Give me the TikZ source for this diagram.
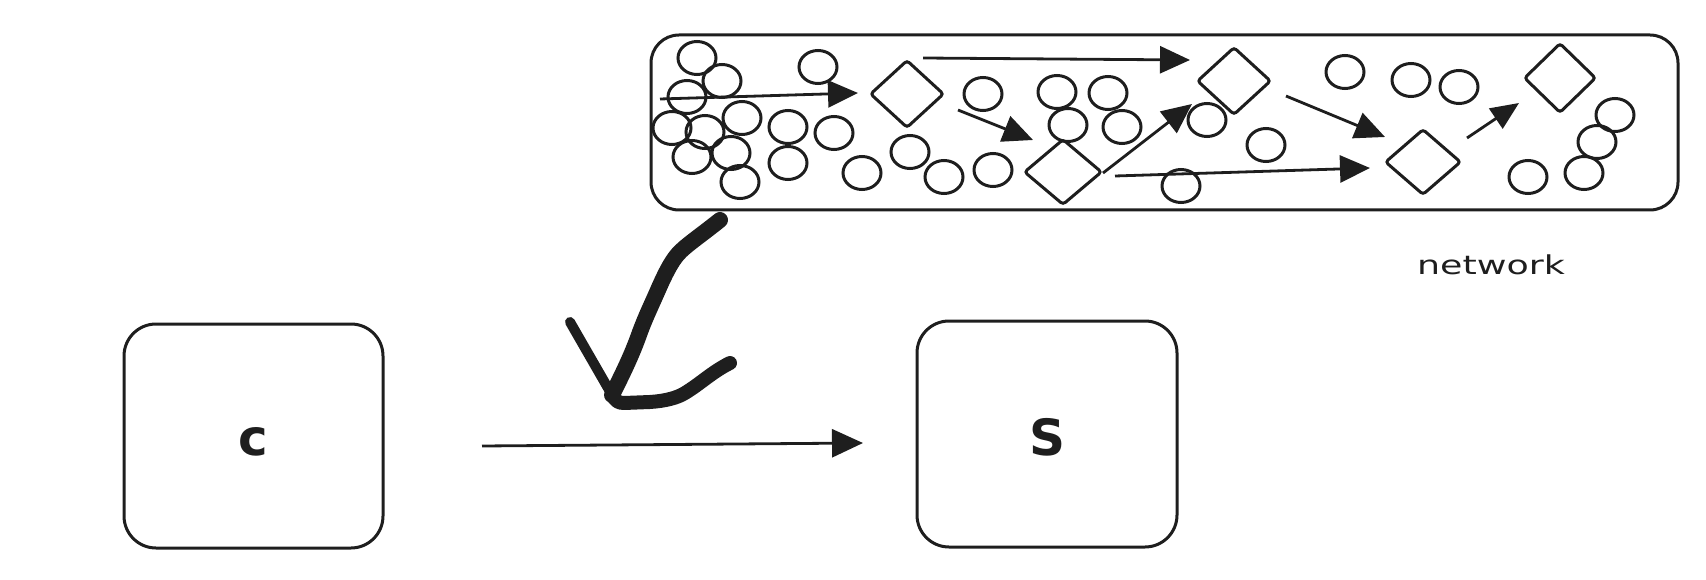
\documentclass[tikz,border=0pt]{standalone}
\usepackage{fontspec}
\setmainfont{DejaVu Sans}
\usetikzlibrary{shapes.geometric,arrows.meta}
\definecolor{ink}{HTML}{1E1E1E}
\begin{document}
\begin{tikzpicture}[x=1pt,y=-1pt,
  sk/.style={draw=ink, line width=3pt},
  blob/.style={sk, ellipse, minimum width=38pt, minimum height=33pt, inner sep=0pt},
  rhomb/.style={sk, diamond, inner sep=0pt, rounded corners=3pt},
  bigbox/.style={sk, rectangle, rounded corners=32pt, inner sep=0pt, text=ink,
                 font=\fontsize{50}{60}\selectfont\bfseries},
  link/.style={draw=ink, line width=2.8pt, -{Triangle[length=30pt,width=27pt]}},
  freehand/.style={draw=ink, line cap=round, line join=round}
]
\useasboundingbox (0,0) rectangle (1706,580);

% main boxes
\node[bigbox, minimum width=259pt, minimum height=224pt] (C) at (253.5,436) {\raisebox{-19pt}[0pt][0pt]{c}};
\node[bigbox, minimum width=260pt, minimum height=226pt] (S) at (1047,434) {\raisebox{-21pt}[0pt][0pt]{S}};

% network container
\node[sk, rectangle, rounded corners=28pt, minimum width=1027pt,
      minimum height=175pt, inner sep=0pt] (net) at (1164.5,122.5) {};
\node[text=ink, font=\fontsize{26}{30}\selectfont, anchor=base, inner sep=0pt]
      (lbl) at (1491,274) {\scalebox{1.4}[1]{network}};

% packets
\foreach \n/\p in {o1/{(697,58)}, o2/{(722,81)}, o3/{(687,97)}, o4/{(742,118)},
                   o5/{(672,128)}, o6/{(705,132)}, o7/{(788,127)}, o8/{(834,133)},
                   o9/{(692,157)}, o10/{(731,153)}, o11/{(788,163)}, o12/{(740,182)},
                   o13/{(818,67)}, o14/{(862,173)}, o15/{(910,152)}, o16/{(944,177)},
                   o17/{(983,94)}, o18/{(993,170)}, o19/{(1057,92)}, o20/{(1108,93)},
                   o21/{(1068,125)}, o22/{(1122,127)}, o23/{(1181,186)}, o24/{(1207,120)},
                   o25/{(1266,145)}, o26/{(1345,72)}, o27/{(1411,80)}, o28/{(1459,87)},
                   o29/{(1615,115)}, o30/{(1597,142)}, o31/{(1584,173)}, o32/{(1528,177)}}
  \node[blob] (\n) at \p {};

% routers
\node[rhomb, minimum width=74pt, minimum height=68pt] (d1) at (907,94) {};
\node[rhomb, minimum width=78pt, minimum height=66pt] (d2) at (1063,172) {};
\node[rhomb, minimum width=74pt, minimum height=68pt] (d3) at (1234,81) {};
\node[rhomb, minimum width=76pt, minimum height=66pt] (d4) at (1423,162) {};
\node[rhomb, minimum width=72pt, minimum height=70pt] (d5) at (1560,78) {};

% arrows inside network
\coordinate (a1s) at (660,99);   \coordinate (a1e) at (858,93);
\coordinate (a2s) at (923,58);   \coordinate (a2e) at (1190,60);
\coordinate (a3s) at (958,110);  \coordinate (a3e) at (1033,140);
\coordinate (a4s) at (1103,173); \coordinate (a4e) at (1192,104);
\coordinate (a5s) at (1115,176); \coordinate (a5e) at (1370,168);
\coordinate (a6s) at (1286,96);  \coordinate (a6e) at (1385,137);
\coordinate (a7s) at (1467,138); \coordinate (a7e) at (1519,103);
\draw[link] (a1s) -- (a1e);
\draw[link] (a2s) -- (a2e);
\draw[link] (a3s) -- (a3e);
\draw[link] (a4s) -- (a4e);
\draw[link] (a5s) -- (a5e);
\draw[link] (a6s) -- (a6e);
\draw[link, -{Triangle[length=28pt,width=24pt]}] (a7s) -- (a7e);

% c -> s
\coordinate (cs1) at (482,446);
\coordinate (cs2) at (863,443);
\draw[link, -{Triangle[length=31pt,width=28pt]}] (cs1) -- (cs2);

% big freehand arrow from network
\coordinate (k0) at (720,220);
\coordinate (k1) at (678,254);
\coordinate (k2) at (658,290);
\coordinate (k3) at (640,332);
\coordinate (k4) at (612,395);
\coordinate (l0) at (570,322);
\coordinate (r1) at (624,403);
\coordinate (r2) at (650,402);
\coordinate (r3) at (685,393);
\coordinate (r4) at (730,363);
\draw[freehand, line width=16pt] (k0) .. controls (700,236) and (685,246) .. (k1)
      .. controls (671,262) and (665,274) .. (k2)
      .. controls (651,306) and (646,316) .. (k3)
      .. controls (632,355) and (622,375) .. (k4);
\draw[freehand, line width=10pt] (l0) -- (k4);
\draw[freehand, line width=14pt] (k4) .. controls (616,401) and (618,403) .. (r1)
      -- (r2) .. controls (665,401) and (677,398) .. (r3)
      .. controls (700,384) and (712,372) .. (r4);
\end{tikzpicture}
\end{document}
